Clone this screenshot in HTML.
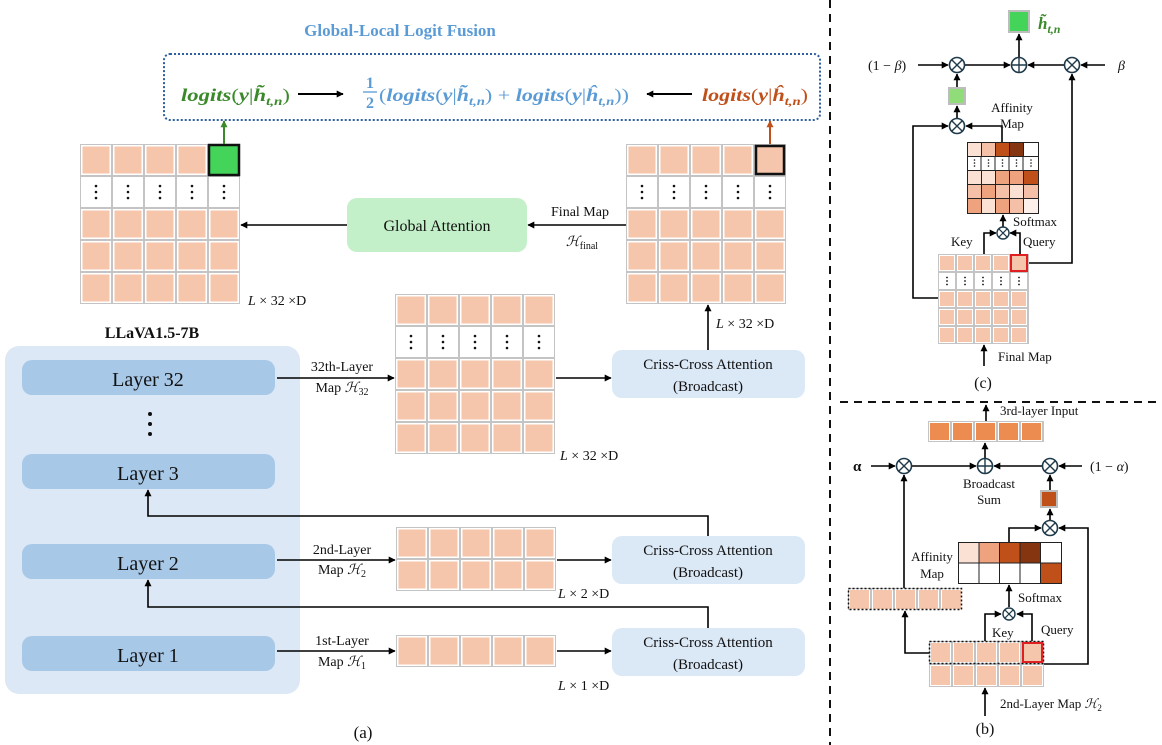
<!DOCTYPE html>
<html><head><meta charset="utf-8"><style>
html,body{margin:0;padding:0;background:#fff}
svg{display:block}
text{font-family:"Liberation Serif",serif;fill:#111}
</style></head><body>
<svg width="1162" height="745" viewBox="0 0 1162 745" xmlns="http://www.w3.org/2000/svg">
<defs>
<marker id="ah" viewBox="0 0 10 10" refX="9" refY="5" markerWidth="7" markerHeight="7" orient="auto-start-reverse" markerUnits="userSpaceOnUse"><path d="M0,0 L10,5 L0,10 z" fill="#000"/></marker>
<marker id="ahg" viewBox="0 0 10 10" refX="9" refY="5" markerWidth="7" markerHeight="7" orient="auto" markerUnits="userSpaceOnUse"><path d="M0,0 L10,5 L0,10 z" fill="#3a8a2a"/></marker>
<marker id="aho" viewBox="0 0 10 10" refX="9" refY="5" markerWidth="7" markerHeight="7" orient="auto" markerUnits="userSpaceOnUse"><path d="M0,0 L10,5 L0,10 z" fill="#c0501a"/></marker>
<pattern id="p32" width="32" height="32" patternUnits="userSpaceOnUse"><rect width="32" height="32" fill="#c4c4c4"/><rect x="1" y="1" width="30" height="30" fill="#fff"/><rect x="2.5" y="2.5" width="27" height="27" fill="#f5c6ab"/></pattern>
<pattern id="d32" width="32" height="32" patternUnits="userSpaceOnUse"><rect width="32" height="32" fill="#c4c4c4"/><rect x="1" y="1" width="30" height="30" fill="#fff"/><circle cx="16" cy="10" r="1.3" fill="#111"/><circle cx="16" cy="16" r="1.3" fill="#111"/><circle cx="16" cy="22" r="1.3" fill="#111"/></pattern>
<pattern id="p18" width="18" height="18" patternUnits="userSpaceOnUse"><rect width="18" height="18" fill="#c4c4c4"/><rect x="1" y="1" width="16" height="16" fill="#fff"/><rect x="2" y="2" width="14" height="14" fill="#f5c6ab"/></pattern>
<pattern id="d18" width="18" height="18" patternUnits="userSpaceOnUse"><rect width="18" height="18" fill="#c4c4c4"/><rect x="1" y="1" width="16" height="16" fill="#fff"/><circle cx="9" cy="5.5" r="0.9" fill="#111"/><circle cx="9" cy="9" r="0.9" fill="#111"/><circle cx="9" cy="12.5" r="0.9" fill="#111"/></pattern>
<pattern id="p23" width="23" height="23" patternUnits="userSpaceOnUse"><rect width="23" height="23" fill="#c4c4c4"/><rect x="1" y="1" width="21" height="21" fill="#fff"/><rect x="2" y="2" width="19" height="19" fill="#f5c6ab"/></pattern>
<pattern id="o23" width="23" height="21" patternUnits="userSpaceOnUse"><rect width="23" height="21" fill="#c4c4c4"/><rect x="1" y="1" width="21" height="19" fill="#fff"/><rect x="2" y="2" width="19" height="17" fill="#ec8c50"/></pattern>
<g id="ot"><circle r="7.5" fill="#fff" stroke="#1f3a4a" stroke-width="1.6"/><path d="M-5.3,-5.3 L5.3,5.3 M-5.3,5.3 L5.3,-5.3" stroke="#1f3a4a" stroke-width="1.4"/></g>
<g id="ots"><circle r="6" fill="#fff" stroke="#1f3a4a" stroke-width="1.4"/><path d="M-4.2,-4.2 L4.2,4.2 M-4.2,4.2 L4.2,-4.2" stroke="#1f3a4a" stroke-width="1.2"/></g>
<g id="op"><circle r="7.5" fill="#fff" stroke="#1f3a4a" stroke-width="1.6"/><path d="M-7.5,0 L7.5,0 M0,-7.5 L0,7.5" stroke="#1f3a4a" stroke-width="1.4"/></g>
</defs>

<!-- Title and fusion box -->
<text x="400" y="36" text-anchor="middle" font-weight="bold" font-size="17" style="fill:#5b9bd5">Global-Local Logit Fusion</text>
<rect x="164" y="54" width="656" height="66" rx="6" fill="none" stroke="#2e5f9e" stroke-width="2" stroke-dasharray="2,2"/>
<text x="181" y="101" font-size="18" font-weight="bold" font-style="italic" style="fill:#3a8a2a" textLength="109" lengthAdjust="spacingAndGlyphs">logits<tspan font-weight="normal" font-style="normal">(</tspan>y<tspan font-weight="normal" font-style="normal">|</tspan>h̃<tspan font-size="12" dy="4">t,n</tspan><tspan dy="-4" font-weight="normal" font-style="normal">)</tspan></text>
<line x1="298" y1="94" x2="343" y2="94" stroke="#000" stroke-width="2" marker-end="url(#ah)"/>
<text x="366" y="88" font-size="16" font-weight="bold" style="fill:#5b9bd5">1</text>
<line x1="363" y1="92" x2="377" y2="92" stroke="#5b9bd5" stroke-width="1.3"/>
<text x="366" y="108" font-size="16" font-weight="bold" style="fill:#5b9bd5">2</text>
<text x="379" y="101" font-size="18" font-weight="bold" font-style="italic" style="fill:#5b9bd5" textLength="250" lengthAdjust="spacingAndGlyphs"><tspan font-weight="normal" font-style="normal">(</tspan>logits<tspan font-weight="normal" font-style="normal">(</tspan>y<tspan font-weight="normal" font-style="normal">|</tspan>h̃<tspan font-size="12" dy="4">t,n</tspan><tspan dy="-4" font-weight="normal" font-style="normal">) + </tspan>logits<tspan font-weight="normal" font-style="normal">(</tspan>y<tspan font-weight="normal" font-style="normal">|</tspan>ĥ<tspan font-size="12" dy="4">t,n</tspan><tspan dy="-4" font-weight="normal" font-style="normal">))</tspan></text>
<line x1="692" y1="94" x2="647" y2="94" stroke="#000" stroke-width="2" marker-end="url(#ah)"/>
<text x="702" y="101" font-size="18" font-weight="bold" font-style="italic" style="fill:#c0501a" textLength="106" lengthAdjust="spacingAndGlyphs">logits<tspan font-weight="normal" font-style="normal">(</tspan>y<tspan font-weight="normal" font-style="normal">|</tspan>ĥ<tspan font-size="12" dy="4">t,n</tspan><tspan dy="-4" font-weight="normal" font-style="normal">)</tspan></text>

<!-- Grid A -->
<g transform="translate(80,144)"><rect width="160" height="160" fill="url(#p32)"/><rect y="32" width="160" height="32" fill="url(#d32)"/><rect x="129" y="1" width="30" height="30" fill="#44d45a" stroke="#111" stroke-width="2.5"/></g>
<line x1="224" y1="144" x2="224" y2="121" stroke="#3a8a2a" stroke-width="2" marker-end="url(#ahg)"/>
<text x="248" y="305" font-size="14"><tspan font-style="italic">L</tspan> × 32 ×D</text>

<!-- Grid B -->
<g transform="translate(626,144)"><rect width="160" height="160" fill="url(#p32)"/><rect y="32" width="160" height="32" fill="url(#d32)"/><rect x="130" y="2" width="28" height="28" fill="none" stroke="#111" stroke-width="2.5"/></g>
<line x1="770" y1="144" x2="770" y2="121" stroke="#c0501a" stroke-width="2" marker-end="url(#aho)"/>

<!-- Global attention -->
<rect x="347" y="198" width="180" height="54" rx="10" fill="#c3f0c8"/>
<text x="437" y="231" text-anchor="middle" font-size="16">Global Attention</text>
<line x1="347" y1="225" x2="241" y2="225" stroke="#000" stroke-width="1.6" marker-end="url(#ah)"/>
<line x1="626" y1="225" x2="528" y2="225" stroke="#000" stroke-width="1.6" marker-end="url(#ah)"/>
<text x="580" y="216" text-anchor="middle" font-size="14">Final Map</text>
<text x="582" y="246" text-anchor="middle" font-size="14"><tspan font-style="italic">ℋ</tspan><tspan font-size="10" dy="3">final</tspan></text>

<!-- Grid C -->
<g transform="translate(395,294)"><rect width="160" height="160" fill="url(#p32)"/><rect y="32" width="160" height="32" fill="url(#d32)"/></g>
<text x="560" y="460" font-size="14"><tspan font-style="italic">L</tspan> × 32 ×D</text>

<!-- CC boxes -->
<rect x="612" y="350" width="193" height="48" rx="10" fill="#dbe8f6"/>
<text x="708" y="369" text-anchor="middle" font-size="15">Criss-Cross Attention</text>
<text x="708" y="391" text-anchor="middle" font-size="15">(Broadcast)</text>
<rect x="612" y="536" width="193" height="48" rx="10" fill="#dbe8f6"/>
<text x="708" y="555" text-anchor="middle" font-size="15">Criss-Cross Attention</text>
<text x="708" y="577" text-anchor="middle" font-size="15">(Broadcast)</text>
<rect x="612" y="628" width="193" height="48" rx="10" fill="#dbe8f6"/>
<text x="708" y="647" text-anchor="middle" font-size="15">Criss-Cross Attention</text>
<text x="708" y="669" text-anchor="middle" font-size="15">(Broadcast)</text>
<line x1="708" y1="350" x2="708" y2="305" stroke="#000" stroke-width="1.6" marker-end="url(#ah)"/>
<text x="716" y="328" font-size="14"><tspan font-style="italic">L</tspan> × 32 ×D</text>

<!-- LLaVA panel -->
<text x="152" y="338" text-anchor="middle" font-size="16" font-weight="bold">LLaVA1.5-7B</text>
<rect x="5" y="346" width="295" height="348" rx="14" fill="#dce8f5"/>
<rect x="22" y="360" width="253" height="35" rx="10" fill="#a8c8e8"/>
<text x="148" y="386" text-anchor="middle" font-size="20">Layer 32</text>
<circle cx="150" cy="414" r="2" fill="#111"/><circle cx="150" cy="424" r="2" fill="#111"/><circle cx="150" cy="434" r="2" fill="#111"/>
<rect x="22" y="454" width="253" height="35" rx="10" fill="#a8c8e8"/>
<text x="148" y="480" text-anchor="middle" font-size="20">Layer 3</text>
<rect x="22" y="544" width="253" height="35" rx="10" fill="#a8c8e8"/>
<text x="148" y="570" text-anchor="middle" font-size="20">Layer 2</text>
<rect x="22" y="636" width="253" height="35" rx="10" fill="#a8c8e8"/>
<text x="148" y="662" text-anchor="middle" font-size="20">Layer 1</text>

<!-- layer 32 -> grid C -> CC1 -->
<line x1="277" y1="378" x2="394" y2="378" stroke="#000" stroke-width="1.6" marker-end="url(#ah)"/>
<text x="342" y="371" text-anchor="middle" font-size="14">32th-Layer</text>
<text x="342" y="392" text-anchor="middle" font-size="14">Map <tspan font-style="italic">ℋ</tspan><tspan font-size="10" dy="3">32</tspan></text>
<line x1="556" y1="378" x2="611" y2="378" stroke="#000" stroke-width="1.6" marker-end="url(#ah)"/>

<!-- Grid D -->
<g transform="translate(396,527)"><rect width="160" height="64" fill="url(#p32)"/></g>
<line x1="277" y1="560" x2="395" y2="560" stroke="#000" stroke-width="1.6" marker-end="url(#ah)"/>
<text x="342" y="554" text-anchor="middle" font-size="14">2nd-Layer</text>
<text x="342" y="574" text-anchor="middle" font-size="14">Map <tspan font-style="italic">ℋ</tspan><tspan font-size="10" dy="3">2</tspan></text>
<line x1="557" y1="560" x2="611" y2="560" stroke="#000" stroke-width="1.6" marker-end="url(#ah)"/>
<text x="558" y="598" font-size="14"><tspan font-style="italic">L</tspan> × 2 ×D</text>

<!-- Grid E -->
<g transform="translate(396,635)"><rect width="160" height="32" fill="url(#p32)"/></g>
<line x1="277" y1="651" x2="395" y2="651" stroke="#000" stroke-width="1.6" marker-end="url(#ah)"/>
<text x="342" y="645" text-anchor="middle" font-size="14">1st-Layer</text>
<text x="342" y="666" text-anchor="middle" font-size="14">Map <tspan font-style="italic">ℋ</tspan><tspan font-size="10" dy="3">1</tspan></text>
<line x1="557" y1="651" x2="611" y2="651" stroke="#000" stroke-width="1.6" marker-end="url(#ah)"/>
<text x="558" y="690" font-size="14"><tspan font-style="italic">L</tspan> × 1 ×D</text>

<!-- feedback -->
<polyline points="708,536 708,516 148,516 148,490" fill="none" stroke="#000" stroke-width="1.6" marker-end="url(#ah)"/>
<polyline points="708,628 708,607 148,607 148,580" fill="none" stroke="#000" stroke-width="1.6" marker-end="url(#ah)"/>
<text x="363" y="738" text-anchor="middle" font-size="17">(a)</text>

<!-- dividers -->
<line x1="830" y1="0" x2="830" y2="745" stroke="#111" stroke-width="2" stroke-dasharray="8,6"/>
<line x1="840" y1="402" x2="1162" y2="402" stroke="#111" stroke-width="2" stroke-dasharray="8,6"/>

<!-- Panel (c) -->
<rect x="1008" y="10" width="22" height="23" fill="#bdbdbd"/><rect x="1010" y="12" width="18" height="19" fill="#44d45a"/>
<text x="1038" y="29" font-size="17" font-weight="bold" font-style="italic" style="fill:#3a8a2a">h̃<tspan font-size="12" dy="4">t,n</tspan></text>
<text x="868" y="70" font-size="14">(1 − <tspan font-style="italic">β</tspan>)</text>
<line x1="918" y1="65" x2="948" y2="65" stroke="#000" stroke-width="1.6" marker-end="url(#ah)"/>
<line x1="965" y1="65" x2="1010" y2="65" stroke="#000" stroke-width="1.6" marker-end="url(#ah)"/>
<line x1="1064" y1="65" x2="1028" y2="65" stroke="#000" stroke-width="1.6" marker-end="url(#ah)"/>
<line x1="1105" y1="65" x2="1081" y2="65" stroke="#000" stroke-width="1.6" marker-end="url(#ah)"/>
<text x="1118" y="70" font-size="14" font-style="italic">β</text>
<line x1="1019" y1="57" x2="1019" y2="34" stroke="#000" stroke-width="1.6" marker-end="url(#ah)"/>
<use href="#ot" x="957" y="65"/><use href="#op" x="1019" y="65"/><use href="#ot" x="1072" y="65"/>
<rect x="948" y="87" width="18" height="18" fill="#bdbdbd"/><rect x="950" y="89" width="14" height="14" fill="#8fdc78"/>
<line x1="957" y1="87" x2="957" y2="74" stroke="#000" stroke-width="1.6" marker-end="url(#ah)"/>
<line x1="957" y1="118" x2="957" y2="106" stroke="#000" stroke-width="1.6" marker-end="url(#ah)"/>
<polyline points="1002,142 1002,126 966,126" fill="none" stroke="#000" stroke-width="1.6" marker-end="url(#ah)"/>
<polyline points="938,298 913,298 913,126 948,126" fill="none" stroke="#000" stroke-width="1.6" marker-end="url(#ah)"/>
<use href="#ot" x="957" y="126"/>
<text x="1012" y="112" text-anchor="middle" font-size="13">Affinity</text>
<text x="1012" y="128" text-anchor="middle" font-size="13">Map</text>
<!-- affinity c -->
<g transform="translate(967,142)">
<rect width="72" height="72" fill="#222"/>
<rect x="1" y="1" width="13" height="13" fill="#fbe0d4"/><rect x="15" y="1" width="13" height="13" fill="#f4c0a8"/><rect x="29" y="1" width="13" height="13" fill="#c0501a"/><rect x="43" y="1" width="13" height="13" fill="#85350f"/><rect x="57" y="1" width="14" height="13" fill="#fff"/>
<rect x="1" y="15" width="70" height="13" fill="#fff"/>
<g fill="#111"><circle cx="7.5" cy="18" r="0.8"/><circle cx="7.5" cy="21" r="0.8"/><circle cx="7.5" cy="24" r="0.8"/><circle cx="21.5" cy="18" r="0.8"/><circle cx="21.5" cy="21" r="0.8"/><circle cx="21.5" cy="24" r="0.8"/><circle cx="35.5" cy="18" r="0.8"/><circle cx="35.5" cy="21" r="0.8"/><circle cx="35.5" cy="24" r="0.8"/><circle cx="49.5" cy="18" r="0.8"/><circle cx="49.5" cy="21" r="0.8"/><circle cx="49.5" cy="24" r="0.8"/><circle cx="64" cy="18" r="0.8"/><circle cx="64" cy="21" r="0.8"/><circle cx="64" cy="24" r="0.8"/></g>
<path d="M14,15v13M28,15v13M42,15v13M56,15v13" stroke="#222"/>
<rect x="1" y="29" width="13" height="13" fill="#fbe0d4"/><rect x="15" y="29" width="13" height="13" fill="#fbe0d4"/><rect x="29" y="29" width="13" height="13" fill="#eea27e"/><rect x="43" y="29" width="13" height="13" fill="#eea27e"/><rect x="57" y="29" width="14" height="13" fill="#c0501a"/>
<rect x="1" y="43" width="13" height="13" fill="#f4c0a8"/><rect x="15" y="43" width="13" height="13" fill="#eea27e"/><rect x="29" y="43" width="13" height="13" fill="#f4c0a8"/><rect x="43" y="43" width="13" height="13" fill="#fbe0d4"/><rect x="57" y="43" width="14" height="13" fill="#f4c0a8"/>
<rect x="1" y="57" width="13" height="14" fill="#eea27e"/><rect x="15" y="57" width="13" height="14" fill="#fbe0d4"/><rect x="29" y="57" width="13" height="14" fill="#eea27e"/><rect x="43" y="57" width="13" height="14" fill="#f4c0a8"/><rect x="57" y="57" width="14" height="14" fill="#fdf0ea"/>
</g>
<line x1="1003" y1="227" x2="1003" y2="215" stroke="#000" stroke-width="1.6" marker-end="url(#ah)"/>
<text x="1013" y="226" font-size="13">Softmax</text>
<polyline points="984,254 984,233 996,233" fill="none" stroke="#000" stroke-width="1.6" marker-end="url(#ah)"/>
<polyline points="1020,254 1020,233 1010,233" fill="none" stroke="#000" stroke-width="1.6" marker-end="url(#ah)"/>
<use href="#ots" x="1003" y="233"/>
<text x="951" y="246" font-size="13">Key</text>
<text x="1023" y="246" font-size="13">Query</text>
<g transform="translate(938,254)"><rect width="91" height="90" fill="url(#p18)"/><rect y="18" width="91" height="18" fill="url(#d18)"/><rect x="73" y="1" width="16" height="16" fill="#f5c6ab" stroke="#e02020" stroke-width="2"/></g>
<polyline points="1029,263 1072,263 1072,74" fill="none" stroke="#000" stroke-width="1.6" marker-end="url(#ah)"/>
<line x1="984" y1="366" x2="984" y2="345" stroke="#000" stroke-width="1.6" marker-end="url(#ah)"/>
<text x="998" y="361" font-size="13">Final Map</text>
<text x="983" y="388" text-anchor="middle" font-size="16">(c)</text>

<!-- Panel (b) -->
<text x="1000" y="415" font-size="13">3rd-layer Input</text>
<line x1="986" y1="421" x2="986" y2="405" stroke="#000" stroke-width="1.6" marker-end="url(#ah)"/>
<g transform="translate(928,421)"><rect width="116" height="21" fill="url(#o23)"/></g>
<line x1="985" y1="458" x2="985" y2="443" stroke="#000" stroke-width="1.6" marker-end="url(#ah)"/>
<text x="853" y="471" font-size="15" font-weight="bold">α</text>
<line x1="871" y1="466" x2="895" y2="466" stroke="#000" stroke-width="1.6" marker-end="url(#ah)"/>
<line x1="912" y1="466" x2="976" y2="466" stroke="#000" stroke-width="1.6" marker-end="url(#ah)"/>
<line x1="1042" y1="466" x2="994" y2="466" stroke="#000" stroke-width="1.6" marker-end="url(#ah)"/>
<line x1="1082" y1="466" x2="1059" y2="466" stroke="#000" stroke-width="1.6" marker-end="url(#ah)"/>
<text x="1090" y="471" font-size="14">(1 − <tspan font-style="italic">α</tspan>)</text>
<use href="#ot" x="904" y="466"/><use href="#op" x="985" y="466"/><use href="#ot" x="1050" y="466"/>
<text x="989" y="488" text-anchor="middle" font-size="13">Broadcast</text>
<text x="989" y="504" text-anchor="middle" font-size="13">Sum</text>
<rect x="1040" y="490" width="18" height="18" fill="#bdbdbd"/><rect x="1042" y="492" width="14" height="14" fill="#c0501a"/>
<line x1="1050" y1="490" x2="1050" y2="475" stroke="#000" stroke-width="1.6" marker-end="url(#ah)"/>
<line x1="1050" y1="520" x2="1050" y2="509" stroke="#000" stroke-width="1.6" marker-end="url(#ah)"/>
<polyline points="1009,542 1009,528 1041,528" fill="none" stroke="#000" stroke-width="1.6" marker-end="url(#ah)"/>
<polyline points="1044,664 1088,664 1088,528 1059,528" fill="none" stroke="#000" stroke-width="1.6" marker-end="url(#ah)"/>
<use href="#ot" x="1050" y="528"/>
<g transform="translate(958,542)">
<rect width="104" height="42" fill="#222"/>
<rect x="1" y="1" width="19.5" height="19.5" fill="#fbe0d4"/><rect x="21.5" y="1" width="19.5" height="19.5" fill="#eea27e"/><rect x="42" y="1" width="19.5" height="19.5" fill="#c0501a"/><rect x="62.5" y="1" width="19.5" height="19.5" fill="#85350f"/><rect x="83" y="1" width="20" height="19.5" fill="#fff"/>
<rect x="1" y="21.5" width="19.5" height="19.5" fill="#fff"/><rect x="21.5" y="21.5" width="19.5" height="19.5" fill="#fff"/><rect x="42" y="21.5" width="19.5" height="19.5" fill="#fff"/><rect x="62.5" y="21.5" width="19.5" height="19.5" fill="#fff"/><rect x="83" y="21.5" width="20" height="19.5" fill="#c0501a"/>
</g>
<text x="932" y="561" text-anchor="middle" font-size="13">Affinity</text>
<text x="932" y="578" text-anchor="middle" font-size="13">Map</text>
<line x1="1009" y1="607" x2="1009" y2="585" stroke="#000" stroke-width="1.6" marker-end="url(#ah)"/>
<text x="1018" y="602" font-size="13">Softmax</text>
<use href="#ots" x="1009" y="614"/>
<polyline points="985,641 985,614 1001,614" fill="none" stroke="#000" stroke-width="1.6" marker-end="url(#ah)"/>
<polyline points="1032,641 1032,614 1017,614" fill="none" stroke="#000" stroke-width="1.6" marker-end="url(#ah)"/>
<text x="992" y="637" font-size="13">Key</text>
<text x="1041" y="634" font-size="13">Query</text>
<g transform="translate(848,588)"><rect width="114" height="22" fill="url(#p23)"/><rect x="0.5" y="0.5" width="113" height="21" fill="none" stroke="#111" stroke-width="1.5" stroke-dasharray="2,2"/></g>
<line x1="904" y1="588" x2="904" y2="475" stroke="#000" stroke-width="1.6" marker-end="url(#ah)"/>
<g transform="translate(929,641)"><rect width="115" height="46" fill="url(#p23)"/><rect x="0.5" y="0.5" width="114" height="22" fill="none" stroke="#111" stroke-width="1.5" stroke-dasharray="2,2"/><rect x="94" y="2" width="19" height="19" fill="none" stroke="#e02020" stroke-width="2"/></g>
<polyline points="929,653 905,653 905,611" fill="none" stroke="#000" stroke-width="1.6" marker-end="url(#ah)"/>
<line x1="985" y1="716" x2="985" y2="688" stroke="#000" stroke-width="1.6" marker-end="url(#ah)"/>
<text x="1000" y="708" font-size="13">2nd-Layer Map <tspan font-style="italic">ℋ</tspan><tspan font-size="9" dy="3">2</tspan></text>
<text x="985" y="734" text-anchor="middle" font-size="16">(b)</text>
</svg>
</body></html>
